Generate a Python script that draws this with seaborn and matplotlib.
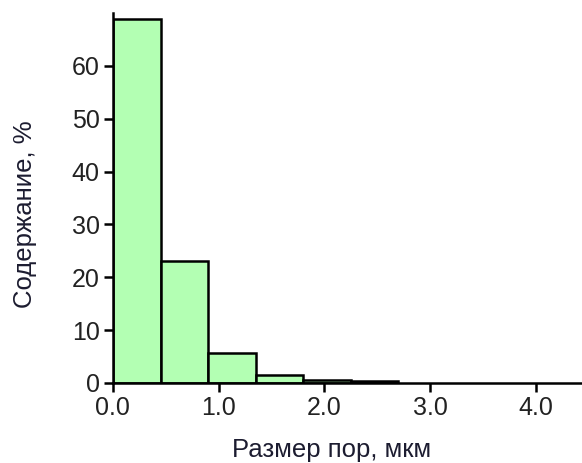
import matplotlib
matplotlib.use("Agg")
import matplotlib.pyplot as plt
import seaborn as sns
import numpy as np

# Data
bin_edges = [0.0, 0.45, 0.90, 1.35, 1.80, 2.25, 2.70]
percent = [68.9, 23.0, 5.7, 1.5, 0.5, 0.4]
bin_centers = [(a + b) / 2 for a, b in zip(bin_edges[:-1], bin_edges[1:])]
x_ticks = [0.0, 1.0, 2.0, 3.0, 4.0]
x_tick_labels = ["0.0", "1.0", "2.0", "3.0", "4.0"]
y_ticks = [0, 10, 20, 30, 40, 50, 60]

sns.set_style("ticks")
plt.rcParams["font.family"] = ["Liberation Sans", "DejaVu Sans"]

fig = plt.figure(figsize=(5.82, 4.63), dpi=100)
ax = fig.add_axes([0.194, 0.173, 0.806, 0.799])

sns.histplot(x=bin_centers, weights=percent, bins=bin_edges, ax=ax,
             color="#b3ffb3", alpha=1.0, edgecolor="black", linewidth=1.8,
             stat="count")

ax.set_xlim(0, 4.435)
ax.set_ylim(0, 70)
ax.set_xticks(x_ticks)
ax.set_xticklabels(x_tick_labels)
ax.set_yticks(y_ticks)

for s in ["top", "right"]:
    ax.spines[s].set_visible(False)
for s in ["left", "bottom"]:
    ax.spines[s].set_linewidth(1.8)
    ax.spines[s].set_color("black")

ax.tick_params(axis="both", direction="out", length=6.5, width=1.8,
               labelsize=18, labelcolor="#222222", color="black", pad=3)

ax.set_xlabel("Размер пор, мкм", fontsize=18.5, color="#1c1c30")
ax.set_ylabel("Содержание, %", fontsize=18.5, color="#1c1c30")
ax.xaxis.set_label_coords(0.467, -0.15)
ax.yaxis.set_label_coords(-0.162, 0.457)

fig.savefig("out.png", dpi=100)
